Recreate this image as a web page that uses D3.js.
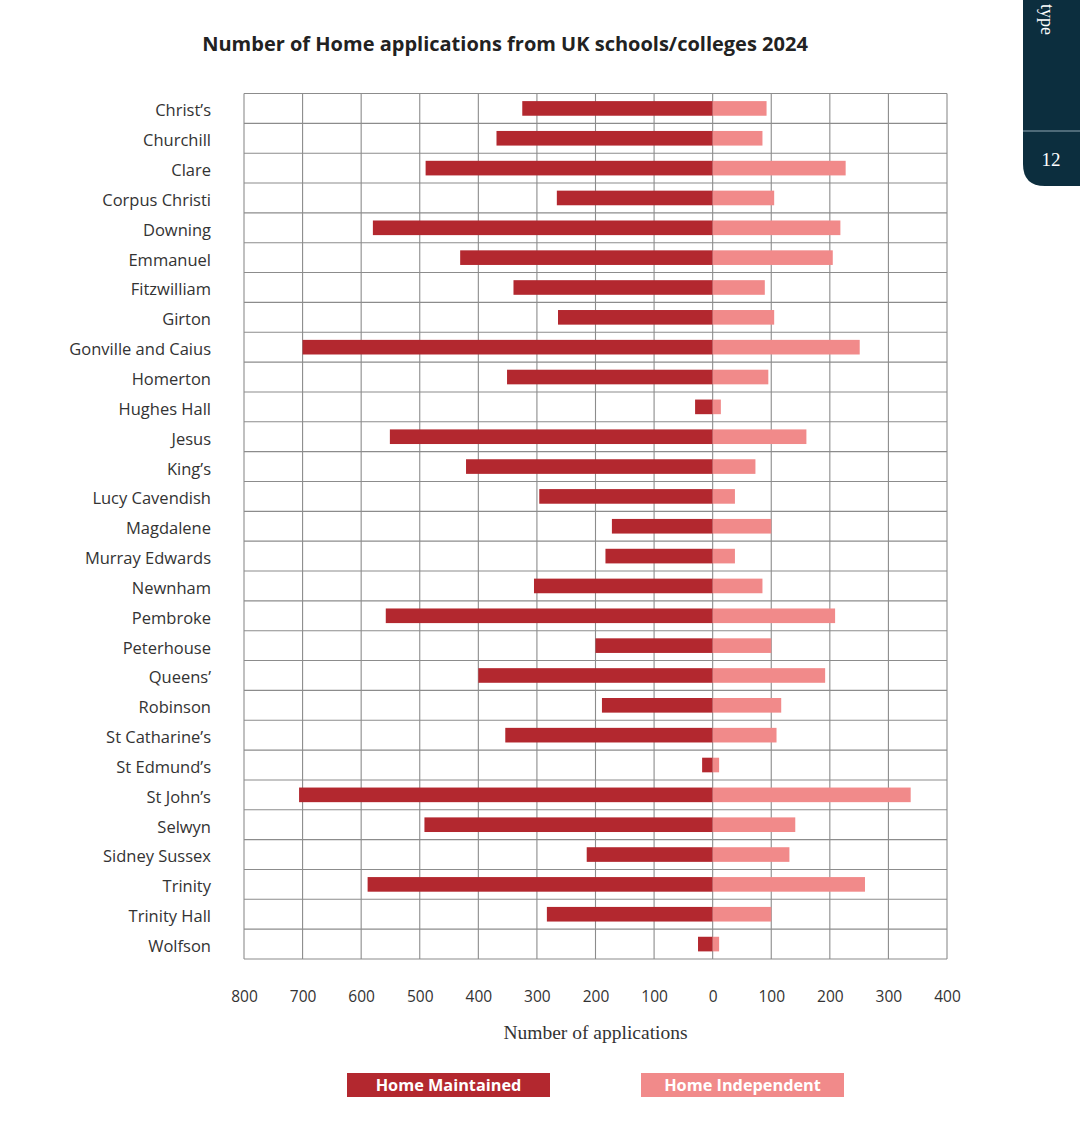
<!DOCTYPE html>
<html>
<head>
<meta charset="utf-8">
<script src="https://cdn.jsdelivr.net/npm/d3@7"></script>
<style>
html,body{margin:0;padding:0;background:#fff;}
svg{display:block;}
</style>
</head>
<body>
<svg id="chart" width="1080" height="1146"></svg>
<script>
const colleges = ["Christ\u2019s","Churchill","Clare","Corpus Christi","Downing","Emmanuel","Fitzwilliam","Girton","Gonville and Caius","Homerton","Hughes Hall","Jesus","King\u2019s","Lucy Cavendish","Magdalene","Murray Edwards","Newnham","Pembroke","Peterhouse","Queens\u2019","Robinson","St Catharine\u2019s","St Edmund\u2019s","St John\u2019s","Selwyn","Sidney Sussex","Trinity","Trinity Hall","Wolfson"];
const homeMaintained = [325,369,490,266,580,431,340,264,700,351,30,551,421,296,172,183,305,558,200,400,189,354,18,706,492,215,589,283,25];
const homeIndependent = [92,85,227,105,218,205,89,105,251,95,14,160,73,38,100,38,85,209,100,192,117,109,11,338,141,131,260,100,11];
const tickValues = [-800,-700,-600,-500,-400,-300,-200,-100,0,100,200,300,400];
const seriesNames = ["Home Maintained","Home Independent"];
const seriesColors = ["#B3282F","#F18A8A"];

(function(){
const svg = d3.select("#chart");
const pL = 244, pR = 947, pT = 93.5, pB = 959;

const x = d3.scaleLinear().domain([-800,400]).range([pL,pR]);
const y = d3.scaleBand().domain(colleges).range([pT,pB]).padding(0);

// top-right tab
const tab = svg.append("g");
const tx = 1023, tw = 80, th = 186, r = 22;
tab.append("path")
  .attr("d", `M${tx},0 L${tx+tw},0 L${tx+tw},${th} L${tx+r},${th} Q${tx},${th} ${tx},${th-r} Z`)
  .attr("fill", "#0C2E3E");
tab.append("line").attr("x1", tx).attr("x2", 1080).attr("y1", 131).attr("y2", 131)
  .attr("stroke", "#8fa6b2").attr("stroke-width", 1.2);
tab.append("text").attr("x", 1051).attr("y", 166).attr("text-anchor","middle")
  .attr("font-family","Liberation Serif, DejaVu Serif, serif").attr("font-size", 19)
  .attr("fill","#fff").text("12");
tab.append("text").attr("transform","translate(1041,35) rotate(90)")
  .attr("text-anchor","end")
  .attr("font-family","Liberation Serif, DejaVu Serif, serif").attr("font-size", 18)
  .attr("fill","#fff").text("type");

// title
svg.append("text").attr("x", 505).attr("y", 51).attr("text-anchor","middle")
  .attr("font-family","Open Sans, Noto Sans, sans-serif").attr("font-weight", 700)
  .attr("font-size", 20).attr("fill","#222").text("Number of Home applications from UK schools/colleges 2024");

// grid
const grid = svg.append("g");
grid.selectAll("line.v").data(tickValues).join("line")
  .attr("x1", d => x(d)).attr("x2", d => x(d)).attr("y1", pT).attr("y2", pB)
  .attr("stroke", "#8c8c8c").attr("stroke-width", 1.1);
const hLines = colleges.map(c => y(c)).concat([pB]);
grid.selectAll("line.h").data(hLines).join("line")
  .attr("x1", pL).attr("x2", pR).attr("y1", d => d).attr("y2", d => d)
  .attr("stroke", "#8c8c8c").attr("stroke-width", 1.1);

// bars
const bh = y.bandwidth() * 0.49;
const bars = svg.append("g");
bars.selectAll("rect.m").data(colleges).join("rect")
  .attr("x", (d,i) => x(-homeMaintained[i]))
  .attr("width", (d,i) => x(0) - x(-homeMaintained[i]))
  .attr("y", d => y(d) + (y.bandwidth()-bh)/2)
  .attr("height", bh)
  .attr("fill", seriesColors[0]);
bars.selectAll("rect.i").data(colleges).join("rect")
  .attr("x", x(0))
  .attr("width", (d,i) => x(homeIndependent[i]) - x(0))
  .attr("y", d => y(d) + (y.bandwidth()-bh)/2)
  .attr("height", bh)
  .attr("fill", seriesColors[1]);

// category labels
svg.append("g").selectAll("text").data(colleges).join("text")
  .attr("x", 211).attr("y", d => y(d) + y.bandwidth()/2 + 2)
  .attr("dy", "0.36em").attr("text-anchor","end")
  .attr("font-family","Open Sans, Noto Sans, sans-serif").attr("font-size", 16.5)
  .attr("fill","#333").text(d => d);

// x axis
const axis = d3.axisBottom(x).tickValues(tickValues).tickSize(0).tickPadding(0)
  .tickFormat(d => Math.abs(d));
const ag = svg.append("g").attr("transform", `translate(0,${pB+43})`).call(axis);
ag.select(".domain").remove();
ag.selectAll("text").attr("font-family","Open Sans, Noto Sans, sans-serif")
  .attr("font-size", 15.5).attr("fill","#333").attr("dy", 0);

svg.append("text").attr("x", (pL+pR)/2).attr("y", 1039).attr("text-anchor","middle")
  .attr("font-family","Liberation Serif, DejaVu Serif, serif").attr("font-size", 19.5)
  .attr("fill","#333").text("Number of applications");

// legend
const legendX = [347, 641];
const lg = svg.append("g");
seriesNames.forEach((n,i) => {
  lg.append("rect").attr("x", legendX[i]).attr("y", 1073).attr("width", 203).attr("height", 24)
    .attr("fill", seriesColors[i]);
  lg.append("text").attr("x", legendX[i] + 101.5).attr("y", 1091).attr("text-anchor","middle")
    .attr("font-family","Open Sans, Noto Sans, sans-serif").attr("font-weight", 700)
    .attr("font-size", 16.3).attr("fill","#fff").text(n);
});
})();
</script>
</body>
</html>
